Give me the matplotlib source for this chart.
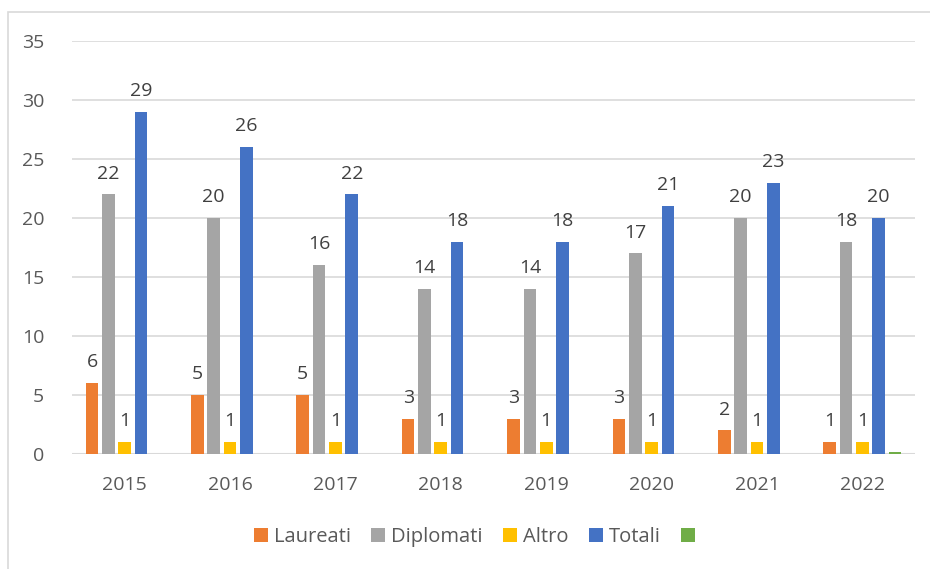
import matplotlib
matplotlib.use("Agg")
import matplotlib.pyplot as plt
from matplotlib.patches import Rectangle, Patch
import numpy as np

years = ["2015", "2016", "2017", "2018", "2019", "2020", "2021", "2022"]
laureati = [6, 5, 5, 3, 3, 3, 2, 1]
diplomati = [22, 20, 16, 14, 14, 17, 20, 18]
altro = [1, 1, 1, 1, 1, 1, 1, 1]
totali = [29, 26, 22, 18, 18, 21, 23, 20]
extra = [0, 0, 0, 0, 0, 0, 0, 0.15]

series = [("Laureati", laureati, "#ED7D31", True),
          ("Diplomati", diplomati, "#A5A5A5", True),
          ("Altro", altro, "#FFC000", True),
          ("Totali", totali, "#4472C4", True),
          (" ", extra, "#70AD47", False)]

plt.rcParams['font.family'] = ['Open Sans', 'DejaVu Sans']
W, H = 930, 569
fig = plt.figure(figsize=(W / 100, H / 100), dpi=100)
ax = fig.add_axes([72 / W, 1 - 454 / H, (915 - 72) / W, (454 - 41) / H])

x = np.arange(len(years))
pitch = 0.155
bw = 0.12
for i, (name, vals, col, lab) in enumerate(series):
    pos = x + (i - 2) * pitch
    ax.bar(pos, vals, width=bw, color=col, label=name, zorder=3)
    if lab:
        for p, v in zip(pos, vals):
            ax.text(p, v + 1.0, str(v), ha='center', va='bottom',
                    fontsize=14, color='#404040')

ax.set_xlim(-0.5, len(years) - 0.5)
ax.set_ylim(0, 35)
ax.set_yticks(range(0, 36, 5))
ax.set_xticks(x)
ax.set_xticklabels(years)
ax.tick_params(axis='both', length=0, labelsize=14, colors='#595959')
ax.tick_params(axis='y', pad=20)
ax.tick_params(axis='x', pad=16)
ax.grid(axis='y', color='#D9D9D9', linewidth=1.2, zorder=0)
for s in ax.spines.values():
    s.set_visible(False)
ax.axhline(0, color='#D9D9D9', linewidth=1.5, zorder=2)

handles = [Patch(facecolor=c, label=n) for n, _, c, _ in series]
fig.legend(handles=handles, loc='center', bbox_to_anchor=(480 / W, 1 - 537 / H),
           ncol=5, frameon=False, fontsize=14.5, handlelength=0.7, handleheight=0.7,
           handletextpad=0.3, columnspacing=1.0, labelcolor='#595959')

fig.patches.append(Rectangle((8 / W, -0.05), 1.0, 1 - 12 / H + 0.05,
                             transform=fig.transFigure, fill=False,
                             edgecolor='#D9D9D9', linewidth=1.2))

fig.savefig("out.png", dpi=100)
